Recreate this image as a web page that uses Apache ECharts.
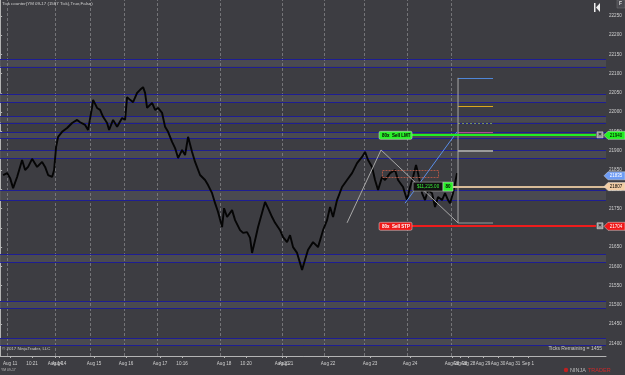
<!DOCTYPE html>
<html><head><meta charset="utf-8">
<script src="https://cdn.jsdelivr.net/npm/echarts@6/dist/echarts.min.js"></script>
<style>html,body{margin:0;padding:0;background:#3d3d42;}#c{width:625px;height:375px;}</style>
</head><body><div id="c"></div>
<script>
// ---- data ----
const bars = [3,7,10,13,17,22,25,28,32,37,42,45,48,52,54,56,58,62,67,72,77,80,85,88,92,93,97,100,103,107,109,113,117,122,125,127,130,133,137,140,143,145,147,152,155,158,162,165,168,172,175,178,182,185,188,192,195,200,205,208,212,215,218,222,224,227,232,235,240,243,247,250,252,255,258,262,265,268,272,275,280,283,287,290,293,297,302,305,308,313,318,323,327,330,333,337,342,347,352,357,362,365,368,372,375,378,382,385,390,395,398,403,407,410,413,416,418,422,425,428,432,435,438,442,445,448,450,453,455,457];
const closes = [21837,21842,21829,21803,21832,21876,21850,21858,21879,21858,21871,21858,21837,21832,21850,21910,21936,21949,21959,21972,21980,21974,21967,21954,22013,22032,22011,22006,21988,21972,21954,21980,21962,21985,21980,22039,22032,22026,22050,22058,22065,22050,22011,22024,22006,22011,21998,21962,21949,21923,21907,21881,21902,21889,21936,21897,21871,21837,21824,21811,21790,21764,21741,21702,21751,21728,21746,21720,21694,21687,21689,21674,21635,21668,21702,21739,21767,21751,21728,21713,21694,21676,21663,21681,21650,21635,21591,21617,21643,21663,21650,21694,21720,21754,21728,21772,21806,21824,21842,21868,21884,21897,21876,21858,21824,21798,21832,21824,21842,21850,21824,21806,21772,21806,21832,21863,21842,21790,21772,21798,21790,21754,21780,21772,21790,21772,21764,21790,21816,21842];
const levelLines = [22137,22118,22048,22026,21989,21973,21948,21933,21901,21881,21797,21771,21631,21611,21510,21491,21413,21396];
const bandPairs = [[22137,22118],[22048,22026],[21989,21973],[21948,21933],[21901,21881],[21797,21771],[21631,21611],[21510,21491],[21413,21396]];
const yTicks = [21400,21450,21500,21550,21600,21650,21700,21750,21800,21850,21900,21950,22000,22050,22100,22150,22200,22250];
const sessionBreaks = [7,55,90,124,157,220,282,324,364,407,451];
const xLabelPos = [10,32,55,59,94,126,160,182,224,246,282,286,328,370,410,452,460,468,483,498,513,528];
const xLabelText = ['Aug 11','10:21','Aug 14','Aug 14','Aug 15','Aug 16','Aug 17','10:16','Aug 18','10:20','Aug 21','Aug 21','Aug 22','Aug 23','Aug 24','Aug 28','Aug 28','Aug 28','Aug 29','Aug 30','Aug 31','Sep 1'];
const limitPrice = 21940, stopPrice = 21704, lastPrice = 21807, askPrice = 21835;
const orderQty = 80, pnlText = '$11,215.00';
const zigzagBars = [347,381,458];
const zigzagPrices = [21713,21902,21713];
const fibLevels = [22089,22016,21972,21949,21899,21713];
const trendBars = [405,457], trendPrices = [21764,21949];
const boxBars = [382,438], boxPrices = [21850,21832];
const xMin = 0, xMax = 606, yMin = 21367.6, yMax = 22291;

// ---- styles ----
const FONT = 'Liberation Sans';
const fibColors = ['#4f86d8','#d9a520','#6f8f6f','#b04a9a','#9a9a9a','#9a9a9a'];
const fibWidths = [1,1,1,1,2,1.2];

const chart = echarts.init(document.getElementById('c'), null, {renderer:'canvas'});
const half = v => Math.round(v) + 0.5;

function hline(api, price, x0, x1, stroke, w, dash){
  const a = api.coord([x0, price]), b = api.coord([x1, price]);
  const y = w % 2 === 1 ? half(a[1]) : Math.round(a[1]);
  return {type:'line', shape:{x1:a[0], y1:y, x2:b[0], y2:y}, style:{stroke, lineWidth:w, lineDash:dash||null}};
}

const series = [];
series.push({type:'custom', z:1, silent:true, data: bandPairs.map(p=>[xMin,p[0],p[1]]), encode:{x:0,y:[1,2]},
  renderItem(params, api){
    const a = api.coord([xMin, api.value(1)]), b = api.coord([xMax, api.value(2)]);
    return {type:'rect', shape:{x:a[0], y:a[1], width:b[0]-a[0], height:b[1]-a[1]}, style:{fill:'#4a4a50'}};
  }});
series.push({type:'custom', z:2, silent:true, data: sessionBreaks.map(v=>[v,yMin]), encode:{x:0,y:1},
  renderItem(params, api){
    const a = api.coord([api.value(0), yMin]), b = api.coord([api.value(0), yMax]);
    const x = half(a[0]);
    return {type:'line', shape:{x1:x,y1:a[1],x2:x,y2:b[1]}, style:{stroke:'#8a8a8e', lineWidth:1, lineDash:[3,2], opacity:0.7}};
  }});
series.push({type:'custom', z:3, silent:true, data: levelLines.map(v=>[xMin,v]), encode:{x:0,y:1},
  renderItem(params, api){ return hline(api, api.value(1), xMin, xMax, '#1e1e92', 1); }});
series.push({type:'line', z:5, silent:true, showSymbol:false, data: bars.map((b,i)=>[b, closes[i]]),
  lineStyle:{color:'#050505', width:1.9}});
series.push({type:'line', z:6, silent:true, showSymbol:false, data: zigzagBars.map((b,i)=>[b, zigzagPrices[i]]),
  lineStyle:{color:'#a9a9a9', width:1}});
series.push({type:'line', z:6, silent:true, showSymbol:false, data:[[zigzagBars[2], zigzagPrices[2]],[zigzagBars[2], fibLevels[0]]],
  lineStyle:{color:'#a9a9a9', width:1}});
series.push({type:'custom', z:6, silent:true, data: fibLevels.map((v,i)=>[zigzagBars[2],v,i]), encode:{x:0,y:1},
  renderItem(params, api){ const i = api.value(2); return hline(api, api.value(1), zigzagBars[2], zigzagBars[2]+35, fibColors[i], fibWidths[i], i===2?[2,2]:null); }});
series.push({type:'line', z:6, silent:true, showSymbol:false, data: trendBars.map((b,i)=>[b, trendPrices[i]]),
  lineStyle:{color:'#5a8ee8', width:1}});
series.push({type:'custom', z:6, silent:true, data:[[boxBars[0], boxPrices[0]]], encode:{x:0,y:1},
  renderItem(params, api){
    const a = api.coord([boxBars[0], boxPrices[0]]), b = api.coord([boxBars[1], boxPrices[1]]);
    return {type:'rect', shape:{x:half(a[0]), y:half(a[1]), width:Math.round(b[0]-a[0]), height:Math.round(b[1]-a[1])},
      style:{fill:null, stroke:'#a85545', lineWidth:1, lineDash:[2,1]}};
  }});
series.push({type:'custom', z:8, silent:true, data:[[412,limitPrice,0],[412,stopPrice,1],[453,lastPrice,2]], encode:{x:0,y:1},
  renderItem(params, api){
    const k = api.value(2);
    const col = ['#22ee22','#ee1c1c','#d8bc98'][k];
    const end = k===2 ? xMax : 596;
    return hline(api, api.value(1), api.value(0), end, col, 2);
  }});
series.push({type:'custom', z:9, silent:true, clip:false, data:[[379,limitPrice,0],[379,stopPrice,1]], encode:{x:0,y:1},
  renderItem(params, api){
    const k = api.value(2);
    const p = api.coord([api.value(0), api.value(1)]);
    const fill = k===0 ? '#2cf02c' : '#f01818';
    const tcol = k===0 ? '#000' : '#fff';
    const txt = orderQty + 'x  Sell ' + (k===0 ? 'LMT' : 'STP');
    const cb = api.coord([597, api.value(1)]);
    return {type:'group', children:[
      {type:'rect', shape:{x:p[0], y:p[1]-4, width:33, height:8, r:1.5}, style:{fill, stroke:'#ddd', lineWidth:0.5}},
      {type:'text', x:p[0]+3, y:p[1], style:{text:txt, fill:tcol, font:'bold 4.5px '+FONT, textVerticalAlign:'middle'}},
      {type:'rect', shape:{x:cb[0], y:cb[1]-3.5, width:6, height:6}, style:{fill:'#9a9a9a', stroke:'#ddd', lineWidth:0.5}},
      {type:'text', x:cb[0]+3, y:cb[1]-0.5, style:{text:'×', fill:'#222', font:'bold 6px '+FONT, align:'center', verticalAlign:'middle'}}
    ]};
  }});
series.push({type:'custom', z:9, silent:true, clip:false, data:[[413,lastPrice]], encode:{x:0,y:1},
  renderItem(params, api){
    const p = api.coord([api.value(0), api.value(1)]);
    return {type:'group', children:[
      {type:'rect', shape:{x:p[0], y:p[1]-4.5, width:30, height:9}, style:{fill:'#101010', stroke:'#9a9a9a', lineWidth:0.7}},
      {type:'text', x:p[0]+15, y:p[1], style:{text:pnlText, fill:'#3cf03c', font:'4.5px '+FONT, align:'center', verticalAlign:'middle'}},
      {type:'rect', shape:{x:p[0]+30, y:p[1]-4.5, width:10, height:9}, style:{fill:'#2cf02c', stroke:'#ddd', lineWidth:0.5}},
      {type:'text', x:p[0]+35, y:p[1], style:{text:String(orderQty), fill:'#000', font:'bold 4.5px '+FONT, align:'center', verticalAlign:'middle'}}
    ]};
  }});
const tagPrices = [limitPrice, askPrice, lastPrice, stopPrice];
const tagFill = ['#22f022','#6e9cf5','#f2cda4','#f01818'];
const tagText = ['#000','#fff','#000','#fff'];
series.push({type:'custom', z:10, silent:true, clip:false, data: tagPrices.map((v,i)=>[xMax,v,i]), encode:{x:0,y:1},
  renderItem(params, api){
    const i = api.value(2);
    const p = api.coord([xMax, api.value(1)]);
    const x = p[0], y = p[1];
    return {type:'group', children:[
      {type:'polygon', shape:{points:[[x-2,y],[x+2,y-4],[x+19,y-4],[x+19,y+4],[x+2,y+4]]}, style:{fill:tagFill[i], stroke:'#ddd', lineWidth:0.5}},
      {type:'text', x:x+10, y:y, style:{text:String(api.value(1)), fill:tagText[i], font:'4.5px '+FONT, align:'center', verticalAlign:'middle'}}
    ]};
  }});

const option = {
  backgroundColor:'#3d3d42',
  animation:false,
  grid:{left:0, top:0, width:606, height:356, containLabel:false},
  xAxis:{type:'value', min:xMin, max:xMax,
    axisLine:{show:true, onZero:false, lineStyle:{color:'#b4b4b4', width:1}},
    axisTick:{show:true, length:2, customValues:xLabelPos, lineStyle:{color:'#b4b4b4'}},
    splitLine:{show:false},
    axisLabel:{show:true, customValues:xLabelPos, margin:5, color:'#d0d0d0', fontSize:4.6, fontFamily:FONT,
      formatter:(v)=>{ const i = xLabelPos.indexOf(v); return i>=0 ? xLabelText[i] : ''; }}},
  yAxis:{type:'value', position:'right', min:yMin, max:yMax, scale:true,
    axisLine:{show:true, lineStyle:{color:'#b4b4b4', width:1}},
    axisTick:{show:true, length:2, inside:false, customValues:yTicks, lineStyle:{color:'#b4b4b4'}},
    splitLine:{show:false},
    axisLabel:{show:true, customValues:yTicks, margin:3, color:'#d0d0d0', fontSize:4.6, fontFamily:FONT,
      formatter:(v)=>String(Math.round(v))}},
  series,
  graphic:[
    {type:'text', left:2, top:2, z:20, style:{text:'Tick counter(YM 09-17 (1587 Tick),True,False)', fill:'#d0d0d0', font:'4.4px '+FONT}},
    {type:'text', left:2, top:347, z:20, style:{text:'© 2017 NinjaTrader, LLC', fill:'#c8c8c8', font:'4.4px '+FONT}},
    {type:'text', right:23, top:346, z:20, style:{text:'Ticks Remaining = 1455', fill:'#c8c8c8', font:'5px '+FONT}},
    {type:'text', left:1, top:369, z:20, style:{text:'YM 09-17', fill:'#bbbbbb', font:'3.4px '+FONT}},
    {type:'circle', shape:{cx:566, cy:370, r:2.2}, z:20, style:{fill:'#c02020'}},
    {type:'text', left:570, top:367, z:20, style:{text:'NINJA', fill:'#bdbdbd', font:'5.5px '+FONT}},
    {type:'text', left:588, top:367, z:20, style:{text:'TRADER', fill:'#d02828', font:'5.5px '+FONT}},
    {type:'rect', shape:{x:617, y:0, width:8, height:8}, z:20, style:{fill:'#4a4a50', stroke:'#777', lineWidth:0.5}},
    {type:'text', left:619, top:1, z:21, style:{text:'F', fill:'#dddddd', font:'bold 5px '+FONT}},
    {type:'rect', shape:{x:594, y:3, width:1.5, height:9}, z:20, style:{fill:'#eeeeee'}},
    {type:'polygon', shape:{points:[[596,7.5],[600,3],[600,12]]}, z:20, style:{fill:'#eeeeee'}}
  ]
};
chart.setOption(option);
</script>
</body></html>
